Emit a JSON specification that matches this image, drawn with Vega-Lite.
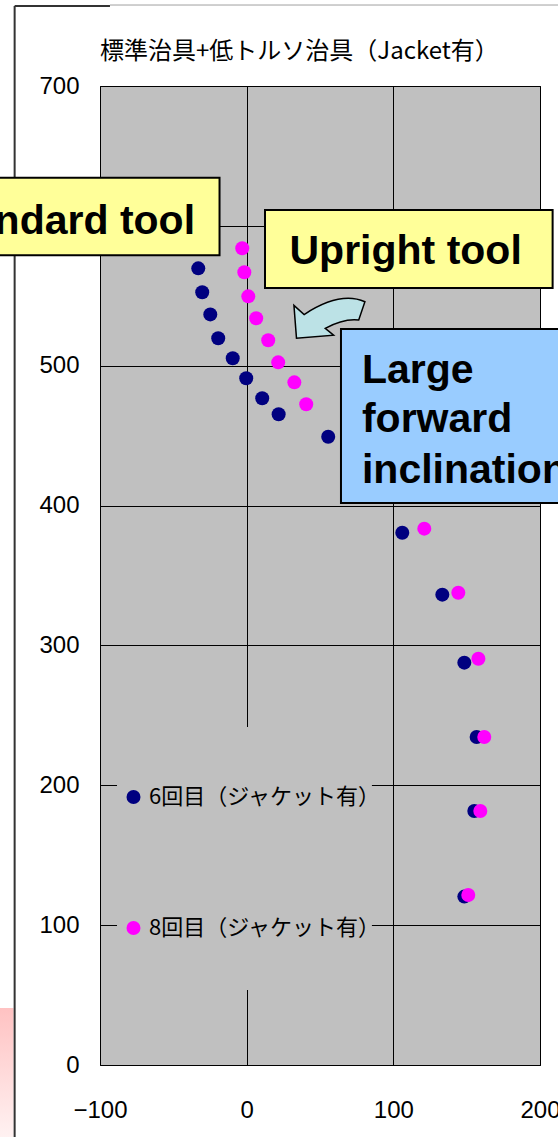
{
  "$schema": "https://vega.github.io/schema/vega-lite/v6.json",
  "width": 440,
  "height": 979,
  "autosize": {"type": "none"},
  "padding": {"left": 100, "top": 86, "right": 18, "bottom": 72},
  "background": "white",
  "datasets": {
    "points": [
      {"series": "6回目（ジャケット有）", "x": -33.0, "y": 569.6},
      {"series": "6回目（ジャケット有）", "x": -30.3, "y": 552.5},
      {"series": "6回目（ジャケット有）", "x": -24.8, "y": 536.7},
      {"series": "6回目（ジャケット有）", "x": -19.4, "y": 519.6},
      {"series": "6回目（ジャケット有）", "x": -9.5, "y": 505.3},
      {"series": "6回目（ジャケット有）", "x": -0.3, "y": 491.0},
      {"series": "6回目（ジャケット有）", "x": 10.6, "y": 476.7},
      {"series": "6回目（ジャケット有）", "x": 21.8, "y": 465.3},
      {"series": "6回目（ジャケット有）", "x": 55.6, "y": 449.2},
      {"series": "6回目（ジャケット有）", "x": 106.1, "y": 380.6},
      {"series": "6回目（ジャケット有）", "x": 133.4, "y": 336.3},
      {"series": "6回目（ジャケット有）", "x": 148.4, "y": 287.7},
      {"series": "6回目（ジャケット有）", "x": 156.8, "y": 234.5},
      {"series": "6回目（ジャケット有）", "x": 155.2, "y": 181.6},
      {"series": "6回目（ジャケット有）", "x": 148.4, "y": 120.4},
      {"series": "8回目（ジャケット有）", "x": -3.0, "y": 584.0},
      {"series": "8回目（ジャケット有）", "x": -1.6, "y": 566.8},
      {"series": "8回目（ジャケット有）", "x": 1.1, "y": 549.6},
      {"series": "8回目（ジャケット有）", "x": 6.5, "y": 533.9},
      {"series": "8回目（ジャケット有）", "x": 14.7, "y": 518.2},
      {"series": "8回目（ジャケット有）", "x": 21.5, "y": 502.4},
      {"series": "8回目（ジャケット有）", "x": 32.5, "y": 488.1},
      {"series": "8回目（ジャケット有）", "x": 40.6, "y": 472.4},
      {"series": "8回目（ジャケット有）", "x": 121.1, "y": 383.5},
      {"series": "8回目（ジャケット有）", "x": 144.3, "y": 337.7},
      {"series": "8回目（ジャケット有）", "x": 158.0, "y": 290.5},
      {"series": "8回目（ジャケット有）", "x": 162.0, "y": 234.5},
      {"series": "8回目（ジャケット有）", "x": 159.3, "y": 181.6},
      {"series": "8回目（ジャケット有）", "x": 151.1, "y": 121.6}
    ],
    "frameLines": [
      {"part": "left", "x": -158.2, "x2": -158.2, "y": 757.2, "y2": -52},
      {"part": "topdark", "x": -158.2, "x2": -93.2, "y": 757.2, "y2": 757.2}
    ],
    "frameLinesGray": [
      {"part": "topgray", "x": -93.2, "x2": 215, "y": 757.9, "y2": 757.9}
    ],
    "pink": [
      {"x": -170, "x2": -159, "y": 40.8, "y2": -52}
    ],
    "legendBg": [
      {"x": -88.4, "x2": 85.4, "y": 241.7, "y2": 53.6}
    ],
    "arrow": [
      {"x": 56.3, "y": 534.0}
    ],
    "yellowBoxes": [
      {"name": "Standard tool", "x": -200, "x2": -18.5, "y": 634.4, "y2": 578.9},
      {"name": "Upright tool", "x": 12.5, "x2": 208.6, "y": 611.3, "y2": 555.6}
    ],
    "blueBox": [
      {"name": "Large forward inclination", "x": 64.3, "x2": 230, "y": 526.3, "y2": 401.8}
    ],
    "titleText": [
      {"label": "標準治具+低トルソ治具（Jacket有）", "x": -100, "y": 724.3}
    ],
    "textRight": [
      {"label": "Standard tool", "x": -35.2, "y": 594.2}
    ],
    "textCenter": [
      {"label": "Upright tool", "x": 108.4, "y": 572.5}
    ],
    "textLeft": [
      {"label": "Large", "x": 78.6, "y": 487.8},
      {"label": "forward", "x": 78.6, "y": 452.8},
      {"label": "inclination", "x": 78.6, "y": 415.9}
    ]
  },
  "encoding": {
    "x": {"field": "x", "type": "quantitative", "scale": {"domain": [-100, 200], "nice": false, "zero": false}, "axis": {"title": null, "values": [-100, 0, 100, 200]}},
    "y": {"field": "y", "type": "quantitative", "scale": {"domain": [0, 700], "nice": false, "zero": false}, "axis": {"title": null, "values": [0, 100, 200, 300, 400, 500, 600, 700]}}
  },
  "layer": [
    {
      "data": {"name": "pink"},
      "mark": {"type": "rect", "color": {"gradient": "linear", "x1": 0, "y1": 0, "x2": 0, "y2": 1, "stops": [{"offset": 0, "color": "#FFC2C2"}, {"offset": 1, "color": "#FFF2F2"}]}},
      "encoding": {"x2": {"field": "x2"}, "y2": {"field": "y2"}}
    },
    {
      "data": {"name": "frameLines"},
      "mark": {"type": "rule", "color": "#333333", "strokeWidth": 2},
      "encoding": {"x2": {"field": "x2"}, "y2": {"field": "y2"}}
    },
    {
      "data": {"name": "frameLinesGray"},
      "mark": {"type": "rule", "color": "#A0A0A0", "strokeWidth": 1},
      "encoding": {"x2": {"field": "x2"}, "y2": {"field": "y2"}}
    },
    {
      "data": {"name": "titleText"},
      "mark": {"type": "text", "align": "left", "baseline": "middle", "font": "Noto Sans CJK JP", "fontSize": 24, "color": "black"},
      "encoding": {"text": {"field": "label"}}
    },
    {
      "data": {"name": "legendBg"},
      "mark": {"type": "rect", "color": "#C0C0C0"},
      "encoding": {"x2": {"field": "x2"}, "y2": {"field": "y2"}}
    },
    {
      "data": {"name": "points"},
      "mark": {"type": "point", "shape": "circle", "filled": true, "size": 196, "opacity": 1},
      "encoding": {
        "color": {
          "field": "series", "type": "nominal",
          "scale": {"domain": ["6回目（ジャケット有）", "8回目（ジャケット有）"], "range": ["#000080", "#FF00FF"]},
          "legend": {"title": null, "orient": "none", "legendX": 22.5, "legendY": 700, "rowPadding": 109, "padding": 0, "symbolType": "circle", "symbolSize": 196, "symbolStrokeWidth": 0, "symbolOpacity": 1, "labelFont": "Noto Sans CJK JP", "labelFontSize": 22, "labelColor": "black", "labelOffset": 4.5, "labelLimit": 400}
        }
      }
    },
    {
      "data": {"name": "arrow"},
      "mark": {"type": "point", "shape": "M0.98,-0.45 Q0.3,-0.75 -0.69,-0.1 L-0.97,-0.35 L-0.9,0.55 L0.12,0.47 L-0.11,0.28 Q0.4,0 0.81,0.05 Z", "size": 5300, "filled": true, "fill": "#BCE2E6", "stroke": "black", "strokeWidth": 1.5, "opacity": 1}
    },
    {
      "data": {"name": "yellowBoxes"},
      "mark": {"type": "rect", "fill": "#FFFF99", "stroke": "black", "strokeWidth": 2},
      "encoding": {"x2": {"field": "x2"}, "y2": {"field": "y2"}}
    },
    {
      "data": {"name": "blueBox"},
      "mark": {"type": "rect", "fill": "#99CCFF", "stroke": "black", "strokeWidth": 2},
      "encoding": {"x2": {"field": "x2"}, "y2": {"field": "y2"}}
    },
    {
      "data": {"name": "textRight"},
      "mark": {"type": "text", "align": "right", "baseline": "alphabetic", "font": "Liberation Sans", "fontWeight": "bold", "fontSize": 41, "color": "black"},
      "encoding": {"text": {"field": "label"}}
    },
    {
      "data": {"name": "textCenter"},
      "mark": {"type": "text", "align": "center", "baseline": "alphabetic", "font": "Liberation Sans", "fontWeight": "bold", "fontSize": 41, "color": "black"},
      "encoding": {"text": {"field": "label"}}
    },
    {
      "data": {"name": "textLeft"},
      "mark": {"type": "text", "align": "left", "baseline": "alphabetic", "font": "Liberation Sans", "fontWeight": "bold", "fontSize": 41, "color": "black"},
      "encoding": {"text": {"field": "label"}}
    }
  ],
  "config": {
    "view": {"fill": "#C0C0C0", "stroke": "black", "strokeWidth": 1},
    "axis": {"grid": true, "gridColor": "black", "gridWidth": 1, "gridOpacity": 1, "domain": false, "ticks": false, "labelFont": "Liberation Sans", "labelFontSize": 24, "labelColor": "black", "labelOverlap": false, "labelFlush": false},
    "axisX": {"labelPadding": 33},
    "axisY": {"labelPadding": 21}
  }
}
